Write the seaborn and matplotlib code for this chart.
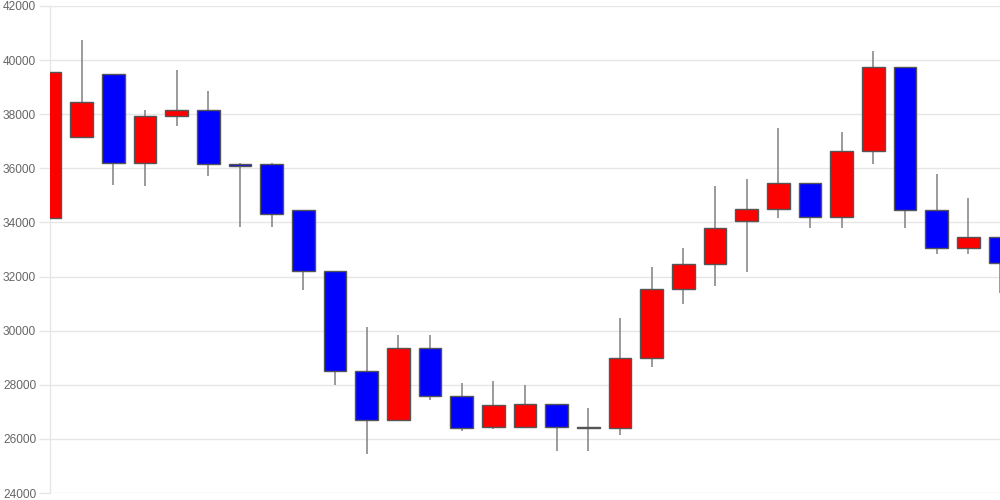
import matplotlib
matplotlib.use("Agg")
import matplotlib.pyplot as plt
import seaborn as sns
import numpy as np

opens  = [34150, 37150, 39500, 36200, 37950, 38150, 36150, 36150, 34450, 32200,
          28500, 26700, 29350, 27600, 26450, 26450, 27300, 26450, 26400, 29000,
          31550, 32450, 34050, 34500, 35450, 34200, 36650, 39750, 34450, 33050, 33450]
closes = [39550, 38450, 36200, 37950, 38150, 36150, 36100, 34300, 32200, 28500,
          26700, 29350, 27600, 26400, 27250, 27300, 26450, 26400, 29000, 31550,
          32450, 33800, 34500, 35450, 34200, 36650, 39750, 34450, 33050, 33450, 32500]
highs  = [40250, 40750, 39500, 38150, 39650, 38850, 36200, 36200, 34450, 32200,
          30150, 29850, 29850, 28050, 28150, 28000, 27300, 27150, 30450, 32350,
          33050, 35350, 35600, 37500, 35450, 37350, 40350, 39750, 35800, 34900, 33450]
lows   = [34150, 37150, 35400, 35350, 37550, 35700, 33850, 33850, 31500, 28000,
          25450, 26700, 27450, 26300, 26350, 26450, 25550, 25550, 26150, 28650,
          31000, 31650, 32150, 34150, 33800, 33800, 36150, 33800, 32850, 32850, 31400]
yticks = [24000, 26000, 28000, 30000, 32000, 34000, 36000, 38000, 40000, 42000]

sns.set_style("white")
plt.rcParams['font.family'] = ['Liberation Sans', 'DejaVu Sans']

fig = plt.figure(figsize=(10, 5), dpi=100)
ax = fig.add_axes([0.05, 0.014, 0.95, 0.974])

x = np.arange(len(opens))
o = np.array(opens); c = np.array(closes)
colors = ['#ff0000' if cc >= oo else '#0000ff' for oo, cc in zip(o, c)]
bottoms = np.minimum(o, c)
heights = np.maximum(np.abs(c - o), 40)

ax.vlines(x, lows, highs, color='#8a8a8a', linewidth=1.2, zorder=2)
ax.bar(x, heights, bottom=bottoms, width=0.72, color=colors,
       edgecolor='#555555', linewidth=1.0, zorder=3)

ax.set_xlim(0, 30)
ax.set_ylim(24000, 42000)
ax.set_yticks(yticks)
ax.set_yticklabels([str(t) for t in yticks])
ax.set_xticks([])
ax.grid(axis='y', color='#e6e6e6', linewidth=1.0, zorder=0)
ax.set_axisbelow(True)
for s in ['top', 'right', 'bottom']:
    ax.spines[s].set_visible(False)
ax.spines['left'].set_color('#e6e6e6')
ax.spines['left'].set_linewidth(1.0)
ax.tick_params(axis='y', length=8, width=1, color='#e6e6e6', pad=2,
               labelsize=8.6, labelcolor='#666666', left=True)

fig.savefig("out.png", dpi=100)
